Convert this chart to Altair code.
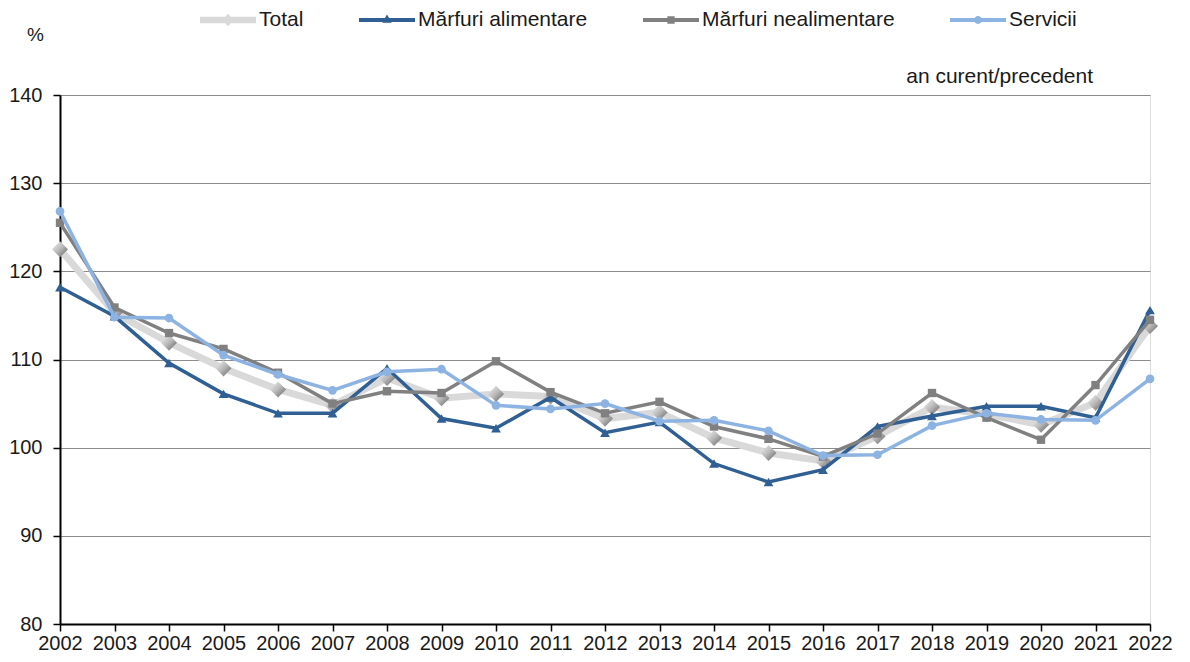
import altair as alt
import pandas as pd

years = [2002, 2003, 2004, 2005, 2006, 2007, 2008, 2009, 2010, 2011, 2012,
         2013, 2014, 2015, 2016, 2017, 2018, 2019, 2020, 2021, 2022]
total = [122.5, 115.3, 111.9, 109.0, 106.6, 104.8, 107.9, 105.6, 106.1, 105.8, 103.3,
         104.0, 101.1, 99.4, 98.5, 101.3, 104.6, 103.8, 102.6, 105.1, 113.8]
alimentare = [118.2, 114.9, 109.6, 106.1, 103.9, 103.9, 109.0, 103.3, 102.2, 105.7, 101.7,
              102.9, 98.2, 96.1, 97.5, 102.4, 103.6, 104.7, 104.7, 103.4, 115.6]
nealimentare = [125.5, 115.9, 113.0, 111.2, 108.5, 105.0, 106.4, 106.2, 109.8, 106.3, 103.9,
                105.2, 102.4, 101.0, 99.0, 101.6, 106.2, 103.4, 100.9, 107.1, 114.5]
servicii = [126.8, 114.8, 114.7, 110.5, 108.3, 106.5, 108.6, 108.9, 104.8, 104.4, 105.0,
            103.0, 103.1, 101.9, 99.1, 99.2, 102.5, 103.9, 103.2, 103.1, 107.8]

series_names = ["Total", "Mărfuri alimentare", "Mărfuri nealimentare", "Servicii"]
series_values = [total, alimentare, nealimentare, servicii]
series_colors = ["#d9d9d9", "#2f5f93", "#808080", "#8db3e2"]

rows = []
for name, vals in zip(series_names, series_values):
    for y, v in zip(years, vals):
        rows.append({"year": y, "series": name, "value": v})
df = pd.DataFrame(rows)

FONT = "Liberation Sans"
TXT = "#1a1a1a"

x_enc = alt.X("year:O", scale=alt.Scale(type="point", padding=0),
              axis=alt.Axis(title=None, labelAngle=0, labelFont=FONT, labelFontSize=20,
                            labelColor=TXT, tickSize=7, tickColor="#000", tickWidth=1.5,
                            domainColor="#000", domainWidth=2, labelPadding=2, grid=False))
y_enc = alt.Y("value:Q", scale=alt.Scale(domain=[80, 140], nice=False, zero=False),
              axis=alt.Axis(title="%", titleAngle=0, titleX=-25, titleY=-61,
                            titleAlign="center", titleBaseline="middle",
                            titleFont=FONT, titleFontSize=19, titleFontWeight="normal",
                            titleColor=TXT, values=[80, 90, 100, 110, 120, 130, 140],
                            labelFont=FONT, labelFontSize=20, labelColor=TXT,
                            tickSize=7, tickColor="#000", tickWidth=1.5, labelPadding=11,
                            domainColor="#000", domainWidth=2,
                            grid=True, gridColor="#8c8c8c", gridWidth=1))

base = alt.Chart(df).encode(x=x_enc, y=y_enc)

def sel(name):
    return alt.datum.series == name

layers = []
# Total
layers.append(base.transform_filter(sel("Total")).mark_line(color="#d9d9d9", strokeWidth=7))
diamond_grad = alt.LinearGradient(
    gradient="linear", x1=0, y1=0, x2=1, y2=1,
    stops=[alt.GradientStop(color="#f4f4f4", offset=0),
           alt.GradientStop(color="#b8b8b8", offset=0.5),
           alt.GradientStop(color="#5e5e5e", offset=1)])
layers.append(base.transform_filter(sel("Total")).mark_point(
    shape="diamond", filled=True, size=260, fill=diamond_grad, opacity=1))
# Others
marker_shapes = {"Mărfuri alimentare": ("triangle-up", 95),
                 "Mărfuri nealimentare": ("square", 70),
                 "Servicii": ("circle", 75)}
for name, color in zip(series_names[1:], series_colors[1:]):
    shp, sz = marker_shapes[name]
    layers.append(base.transform_filter(sel(name)).mark_line(color=color, strokeWidth=3.5))
    layers.append(base.transform_filter(sel(name)).mark_point(
        shape=shp, filled=True, size=sz, color=color, opacity=1))

# Legend (symbols: line with marker), drawn only in the legend
legend_paths = [
    "M-1,-0.12L1,-0.12L1,0.12L-1,0.12Z M0,-0.22L0.2,0L0,0.22L-0.2,0Z",
    "M-1,-0.07L1,-0.07L1,0.07L-1,0.07Z M0,-0.2L0.17,0.1L-0.17,0.1Z",
    "M-1,-0.07L1,-0.07L1,0.07L-1,0.07Z M-0.13,-0.13L0.13,-0.13L0.13,0.13L-0.13,0.13Z",
    "M-1,-0.07L1,-0.07L1,0.07L-1,0.07Z M-0.14,0A0.14,0.14 0 1,1 0.14,0A0.14,0.14 0 1,1 -0.14,0Z",
]
legend_layer = alt.Chart(df).transform_filter("false").mark_point(filled=True, opacity=1).encode(
    x=alt.X("year:O"), y=alt.Y("value:Q"),
    color=alt.Color("series:N", scale=alt.Scale(domain=series_names, range=series_colors),
                    legend=alt.Legend(orient="none", legendX=140, legendY=-103,
                                      direction="horizontal", columns=4, title=None,
                                      labelFont=FONT, labelFontSize=21, labelColor=TXT,
                                      labelLimit=0,
                                      symbolSize=3136, columnPadding=55, labelOffset=3,
                                      symbolStrokeWidth=0, symbolOpacity=1)),
    shape=alt.Shape("series:N", scale=alt.Scale(domain=series_names, range=legend_paths)),
)
layers.append(legend_layer)

note = alt.Chart(pd.DataFrame({"t": ["an curent/precedent"]})).mark_text(
    align="right", baseline="alphabetic", font=FONT, fontSize=21, color=TXT
).encode(text="t:N", x=alt.value(1033), y=alt.value(-12))
layers.append(note)

chart = alt.layer(*layers).properties(
    width=1090, height=529,
    padding={"left": 52, "top": 87, "right": 32, "bottom": 30},
    autosize=alt.AutoSizeParams(type="none"),
).configure_view(stroke="#8c8c8c", strokeWidth=1.5).configure(background="white")

chart.save("out.html", embed_options={"renderer": "svg", "actions": False})
